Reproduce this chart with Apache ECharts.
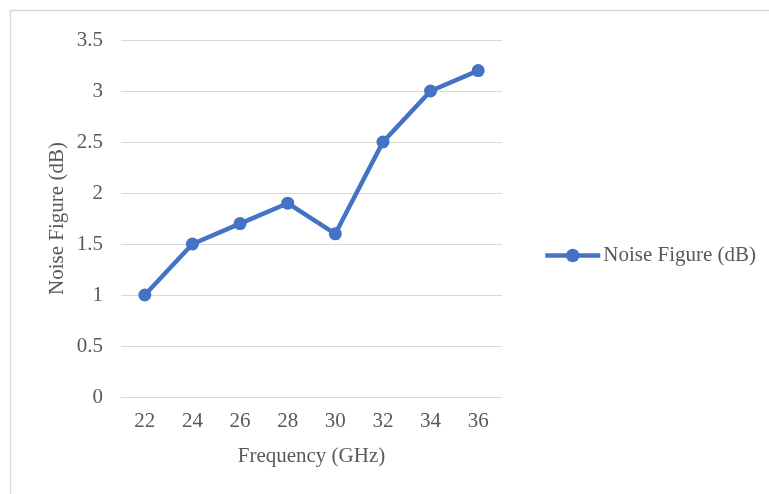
<!DOCTYPE html>
<html>
<head>
<meta charset="utf-8">
<script src="https://cdn.jsdelivr.net/npm/echarts@6/dist/echarts.min.js"></script>
<style>
  html, body { margin: 0; padding: 0; background: #fff; }
  #chart { width: 769px; height: 494px; }
</style>
</head>
<body>
<div id="chart"></div>
<script>
// Frequency sweep (GHz) and measured noise figure (dB)
const frequencies = ['22', '24', '26', '28', '30', '32', '34', '36'];
const noiseFigure = [1.0, 1.5, 1.7, 1.9, 1.6, 2.5, 3.0, 3.2];
const seriesName = 'Noise Figure (dB)';

const font = 'Liberation Serif, Times New Roman, serif';
const fontSize = 21;
const textColor = '#595959';
const gridColor = '#d9d9d9';
const lineColor = '#4472c4';

const chart = echarts.init(document.getElementById('chart'), null, { renderer: 'canvas' });
chart.setOption({
  backgroundColor: '#ffffff',
  animation: false,
  graphic: [{
    type: 'rect',
    shape: { x: 10.5, y: 10.5, width: 800, height: 600 },
    style: { fill: 'none', stroke: gridColor, lineWidth: 1.5 },
    silent: true
  }],
  grid: { left: 121, right: 267, top: 40, bottom: 97 },
  legend: {
    left: 543, top: 245,
    padding: 0,
    itemWidth: 55, itemHeight: 17,
    lineStyle: { width: 4.5 },
    textStyle: { fontFamily: font, fontSize: fontSize, color: textColor, padding: [1, 0, 0, -2] },
    data: [seriesName]
  },
  xAxis: {
    type: 'category',
    data: frequencies,
    boundaryGap: true,
    name: 'Frequency (GHz)',
    nameLocation: 'middle',
    nameGap: 49,
    nameTextStyle: { fontFamily: font, fontSize: fontSize, color: textColor },
    axisLine: { show: true, lineStyle: { color: gridColor, width: 1 } },
    axisTick: { show: false },
    axisLabel: { fontFamily: font, fontSize: fontSize, color: textColor, margin: 14 },
    splitLine: { show: false }
  },
  yAxis: {
    type: 'value',
    min: 0, max: 3.5, interval: 0.5,
    name: 'Noise Figure (dB)',
    nameLocation: 'middle',
    nameGap: 53,
    nameTextStyle: { fontFamily: font, fontSize: fontSize, color: textColor },
    axisLine: { show: false },
    axisTick: { show: false },
    axisLabel: { fontFamily: font, fontSize: fontSize, color: textColor, margin: 18 },
    splitLine: { show: true, lineStyle: { color: gridColor, width: 1 } }
  },
  series: [{
    name: seriesName,
    type: 'line',
    data: noiseFigure,
    symbol: 'circle',
    symbolSize: 13,
    itemStyle: { color: lineColor },
    lineStyle: { color: lineColor, width: 4.5 }
  }]
});
</script>
</body>
</html>
